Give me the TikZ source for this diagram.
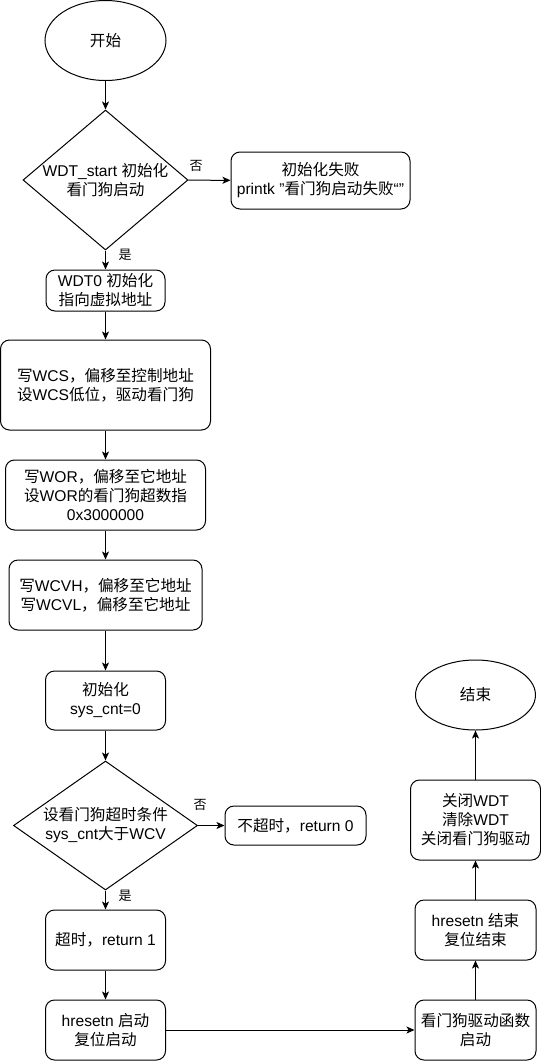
\documentclass[tikz,border=0pt]{standalone}
\usepackage{fontspec}
\setmainfont{Liberation Sans}
\newfontfamily\latinfont{Liberation Sans}
\newfontfamily\cjkfont{Noto Sans CJK SC}
% switch to the CJK font for Chinese characters and full-width punctuation
\XeTeXinterchartokenstate=1
\newXeTeXintercharclass\cjkchars
\count255="4E00
\loop\XeTeXcharclass\count255=\cjkchars
  \ifnum\count255<"9FFF \advance\count255 by 1 \repeat
\count255="FF00
\loop\XeTeXcharclass\count255=\cjkchars
  \ifnum\count255<"FFEF \advance\count255 by 1 \repeat
\XeTeXinterchartoks 0 \cjkchars = {\cjkfont}
\XeTeXinterchartoks 4095 \cjkchars = {\cjkfont}
\XeTeXinterchartoks \cjkchars 0 = {\latinfont}
\XeTeXinterchartoks \cjkchars 4095 = {\latinfont}
\usetikzlibrary{shapes.geometric,arrows.meta}

\begin{document}
\begin{tikzpicture}
  [
    x=1pt,y=-1pt,
    inner sep=0mm,
    line width=1pt,
    font=\fontsize{15.6}{19}\selectfont,
    terminal/.style={ellipse,draw,minimum width=121,minimum height=80},
    process/.style={rectangle,rounded corners=9,draw,align=center},
    decision/.style={diamond,draw},
    flow/.style={-{Stealth[length=8pt,width=7pt,inset=2pt]}},
    answer/.style={font=\fontsize{13}{15}\selectfont},
  ]
  \useasboundingbox (0,0) rectangle (541,1061);

  % main column
  \node (start) at (105.5,40.5) [terminal] {开始};
  \node (check) at (105.5,180) [decision,minimum width=165,minimum height=140] {};
  \node at (check) [align=center] {WDT\_start 初始化\\看门狗启动};
  \node (fail) at (320.5,180.5) [process,minimum width=179,minimum height=57]
    {初始化失败\\printk "看门狗启动失败“”};
  \node (wdt) at (105.5,290.5) [process,minimum width=119,minimum height=41]
    {WDT0 初始化\\指向虚拟地址};
  \node (wcs) at (105.5,385) [process,minimum width=210,minimum height=90]
    {写WCS，偏移至控制地址\\设WCS低位，驱动看门狗};
  \node (wor) at (105.5,495) [process,minimum width=200,minimum height=70]
    {写WOR，偏移至它地址\\设WOR的看门狗超数指\\0x3000000};
  \node (wcv) at (105.5,595) [process,minimum width=193,minimum height=70]
    {写WCVH，偏移至它地址\\写WCVL，偏移至它地址};
  \node (init) at (105.5,700.5) [process,minimum width=120,minimum height=59]
    {初始化\\sys\_cnt=0};
  \node (timer) at (105.5,825.5) [decision,minimum width=184,minimum height=129] {};
  \node at (timer) [align=center] {设看门狗超时条件\\sys\_cnt大于WCV};
  \node (ok) at (295.5,825.5) [process,minimum width=141,minimum height=39]
    {不超时，return 0};
  \node (over) at (105.5,940) [process,minimum width=120,minimum height=60]
    {超时，return 1};
  \node (rston) at (105.5,1030) [process,minimum width=120,minimum height=60]
    {hresetn 启动\\复位启动};

  % right column
  \node (drv) at (475.5,1030) [process,minimum width=121,minimum height=60]
    {看门狗驱动函数\\启动};
  \node (rstoff) at (475.5,930) [process,minimum width=121,minimum height=60]
    {hresetn 结束\\复位结束};
  \node (close) at (475.5,820) [process,minimum width=130,minimum height=80]
    {关闭WDT\\清除WDT\\关闭看门狗驱动};
  \node (stop) at (475.5,695) [terminal,minimum width=120,minimum height=70] {结束};

  % answers
  \node (no1) at (196,166) [answer] {否};
  \node (yes1) at (125,255) [answer] {是};
  \node (no2) at (200,805) [answer] {否};
  \node (yes2) at (125,896) [answer] {是};

  \draw [flow] (start) -- (check);
  \draw [flow] (check) -- (fail);
  \draw [flow] (check) -- (wdt);
  \draw [flow] (wdt) -- (wcs);
  \draw [flow] (wcs) -- (wor);
  \draw [flow] (wor) -- (wcv);
  \draw [flow] (wcv) -- (init);
  \draw [flow] (init) -- (timer);
  \draw [flow] (timer) -- (ok);
  \draw [flow] (timer) -- (over);
  \draw [flow] (over) -- (rston);
  \draw [flow] (rston) -- (drv);
  \draw [flow] (drv) -- (rstoff);
  \draw [flow] (rstoff) -- (close);
  \draw [flow] (close) -- (stop);
\end{tikzpicture}
\end{document}
